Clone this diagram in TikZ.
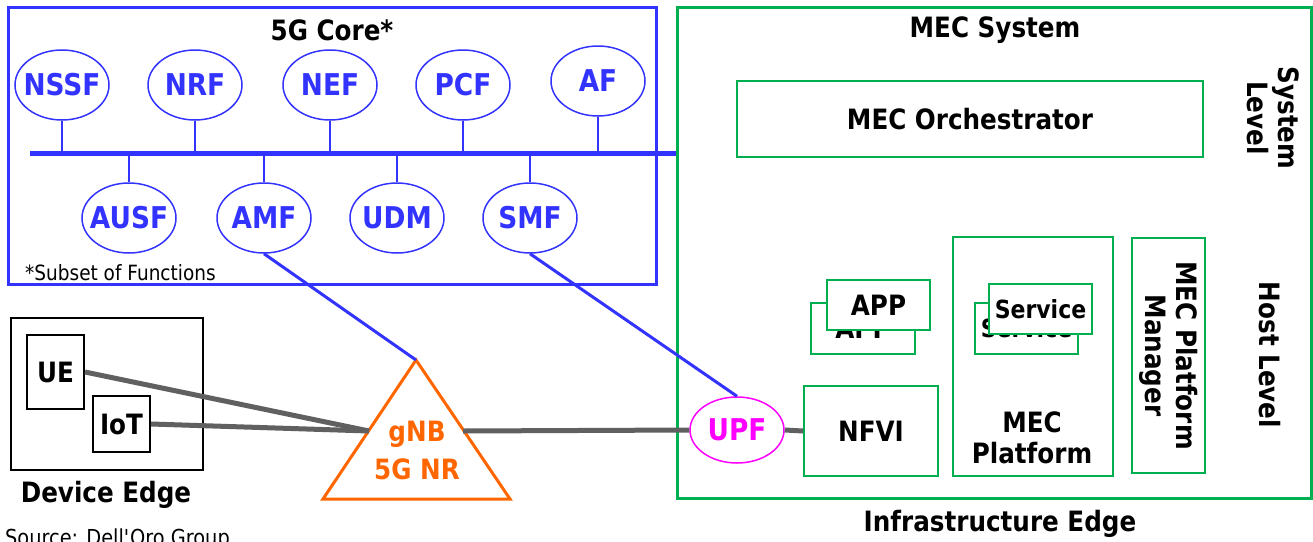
\documentclass[tikz,border=0pt]{standalone}
\usepackage{fontspec}
\setmainfont{DejaVu Sans}[FakeStretch=0.88]
\usepackage{xcolor}
\usepackage{tikz}
\usetikzlibrary{shapes.geometric}
\definecolor{coreblue}{RGB}{51,51,255}
\definecolor{mecgreen}{RGB}{0,176,80}
\definecolor{gnborange}{RGB}{255,102,0}
\definecolor{upfpink}{RGB}{255,0,255}
\definecolor{linkgray}{RGB}{96,96,96}

\begin{document}
\begin{tikzpicture}[x=1pt,y=-1pt,
    lbl/.style={font=\fontsize{28}{31}\selectfont\bfseries, align=center, inner sep=0pt},
    nfname/.style={lbl, font=\fontsize{30}{33}\selectfont\bfseries, text=coreblue},
    nf/.style={ellipse, draw=coreblue, line width=1.5pt, minimum width=94pt, minimum height=70pt, inner sep=0pt},
    gbox/.style={draw=mecgreen, line width=1.8pt, fill=white, lbl},
    bbox/.style={draw=black, line width=2pt, lbl},
    link/.style={linkgray, line width=5pt},
    stem/.style={coreblue, line width=2pt}]
    \useasboundingbox (0,0) rectangle (1313,541);
    % 5G core
    \draw[coreblue, line width=3pt] (8,7) rectangle (656,284);
    \node[lbl] (coretitle) at (332,30) {5G Core*};
    \node[font=\fontsize{21}{24}\selectfont, anchor=west, inner sep=0pt] (subset) at (25,273) {*Subset of Functions};
    \coordinate (busL) at (30,153);
    \coordinate (busR) at (677,153);
    \draw[coreblue, line width=5pt] (busL) -- (busR);
    \foreach \nm/\x/\y in {NSSF/62/85, NRF/195/85, NEF/330/85, PCF/463/85, AF/598/81}{
      \node[nf, label={[nfname]center:\nm}] (\nm) at (\x,\y) {};
      \draw[stem] (\nm.south) -- (\nm.south |- busL);
    }
    \foreach \nm/\x in {AUSF/129, AMF/264, UDM/397, SMF/530}{
      \node[nf, label={[nfname]center:\nm}] (\nm) at (\x,218) {};
      \draw[stem] (\nm.north) -- (\nm.north |- busL);
    }
    % MEC system
    \draw[mecgreen, line width=3pt] (677,7) rectangle (1311,498);
    \node[lbl] (mectitle) at (995,30) {MEC System};
    \node[gbox, minimum width=466pt, minimum height=76pt] (orch) at (970,119) {MEC Orchestrator};
    \node[lbl, rotate=-90] (syslevel) at (1273,118) {System\\Level};
    \node[lbl, rotate=-90] (hostlevel) at (1270,355) {Host Level};
    \node[gbox, rotate=-90, minimum width=235pt, minimum height=73pt] (mpm) at (1168.5,355.5) {MEC Platform\\Manager};
    \node[gbox, minimum width=160pt, minimum height=239pt] (mecplat) at (1033,356.5) {};
    \node[lbl] (mecplatname) at (1032,438) {MEC\\Platform};
    \node[gbox, font=\fontsize{25}{28}\selectfont\bfseries, minimum width=103pt, minimum height=51pt] (svcback) at (1026.5,328.5) {Service};
    \node[gbox, font=\fontsize{25}{28}\selectfont\bfseries, minimum width=103pt, minimum height=50pt] (svcfront) at (1040.5,309) {Service};
    \node[gbox, minimum width=104pt, minimum height=51pt] (appback) at (863,328.5) {APP};
    \node[gbox, minimum width=103pt, minimum height=50pt] (appfront) at (878.5,305) {APP};
    \node[gbox, minimum width=134pt, minimum height=90pt] (NFVI) at (871,431) {NFVI};
    \node[ellipse, draw=upfpink, line width=1.5pt, minimum width=94pt, minimum height=66pt, inner sep=0pt,
      label={[nfname, text=upfpink]center:UPF}] (UPF) at (737,430) {};
    \node[lbl] (infra) at (1000,524) {Infrastructure Edge};
    % device edge
    \node[bbox, minimum width=192pt, minimum height=152pt] (devbox) at (107,394) {};
    \node[lbl] (devedge) at (106,495) {Device Edge};
    \node[bbox, minimum width=57pt, minimum height=74pt] (UE) at (55.5,372) {UE};
    \node[bbox, minimum width=57pt, minimum height=56pt] (IoT) at (121.5,424) {IoT};
    % gNB
    \coordinate (gnbtop) at (416,360);
    \coordinate (gnbbl) at (323,499);
    \coordinate (gnbbr) at (510,499);
    \coordinate (gnbL) at (369,431);
    \coordinate (gnbR) at (463,431);
    \draw[gnborange, line width=3pt] (gnbtop) -- (gnbbr) -- (gnbbl) -- cycle;
    \node[lbl, text=gnborange] (gnblabel) at (417,450) {gNB\\[7pt]5G NR};
    % links
    \draw[link] (UE.east) -- (gnbL);
    \draw[link] (IoT.east) -- (gnbL);
    \draw[link] (gnbR) -- (UPF.west);
    \draw[link] (UPF.east) -- (NFVI.west);
    \draw[coreblue, line width=3pt] (AMF.south) -- (gnbtop);
    \draw[coreblue, line width=3pt] (SMF.south) -- (UPF.north);
    \node[font=\fontsize{22}{24}\selectfont, anchor=base west, inner sep=0pt] (source) at (5,545) {Source: Dell\textquotesingle Oro Group};
\end{tikzpicture}
\end{document}
